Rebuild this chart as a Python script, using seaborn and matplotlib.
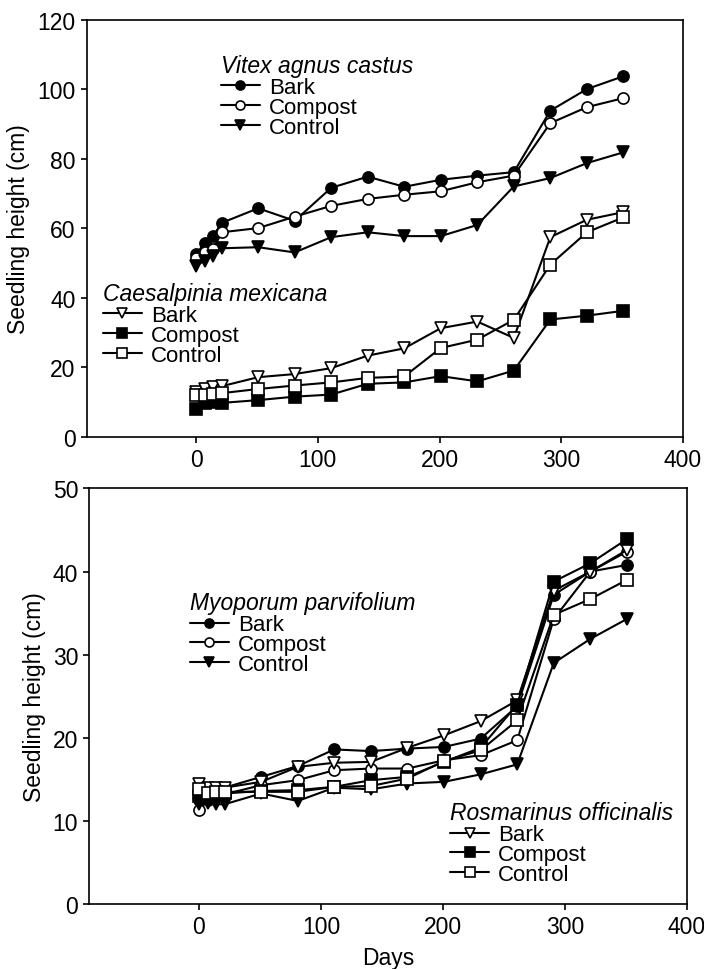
import matplotlib
matplotlib.use('Agg')
import matplotlib.pyplot as plt
from matplotlib.lines import Line2D
import seaborn as sns

# Days after planting (shared x values)
days = [0, 7, 14, 21, 51, 81, 111, 141, 171, 201, 231, 261, 291, 321, 351]

# Top panel - Vitex agnus castus
vitex_bark = [52.7, 55.7, 57.8, 61.6, 65.8, 62.2, 71.7, 74.9, 72.0, 74.0, 75.2, 76.2, 93.9, 100.1, 103.8]
vitex_compost = [51.5, 53.2, 54.2, 58.9, 60.1, 63.4, 66.5, 68.5, 69.7, 70.7, 73.3, 75.2, 90.3, 94.9, 97.5]
vitex_control = [49.3, 50.7, 52.2, 54.3, 54.6, 53.1, 57.5, 58.9, 57.8, 57.8, 61.0, 72.1, 74.5, 78.8, 81.9]

# Top panel - Caesalpinia mexicana
cae_bark = [13.0, 13.8, 14.3, 14.6, 17.2, 18.1, 19.8, 23.4, 25.5, 31.3, 33.2, 28.5, 57.5, 62.5, 64.7]
cae_compost = [8.1, 9.8, 10.0, 9.8, 10.6, 11.6, 12.2, 15.3, 15.7, 17.5, 16.0, 19.1, 33.8, 34.9, 36.3]
cae_control = [12.1, 12.2, 12.4, 12.6, 13.8, 14.8, 15.7, 17.0, 17.4, 25.6, 28.0, 33.7, 49.6, 58.9, 63.2]

# Bottom panel - Myoporum parvifolium
myo_bark = [12.5, 13.8, 14.0, 14.0, 15.3, 16.6, 18.6, 18.4, 18.7, 18.9, 19.9, 23.8, 37.2, 40.0, 40.8]
myo_compost = [11.3, 12.5, 13.0, 13.2, 14.3, 14.9, 16.1, 16.3, 16.3, 17.3, 17.9, 19.7, 34.3, 40.0, 42.4]
myo_control = [12.0, 12.2, 12.0, 12.0, 13.3, 12.4, 14.0, 13.8, 14.5, 14.7, 15.6, 16.8, 29.0, 31.9, 34.3]

# Bottom panel - Rosmarinus officinalis
ros_bark = [14.4, 14.0, 14.0, 14.0, 14.7, 16.5, 17.0, 17.1, 18.8, 20.3, 22.0, 24.5, 37.7, 40.0, 42.6]
ros_compost = [13.0, 13.0, 13.2, 13.3, 13.6, 13.7, 14.1, 14.9, 15.3, 17.1, 18.8, 24.0, 38.8, 41.0, 43.9]
ros_control = [13.8, 13.3, 13.5, 13.5, 13.5, 13.5, 14.1, 14.2, 15.1, 17.2, 18.5, 22.1, 34.8, 36.7, 39.0]

treatments = ['Bark', 'Compost', 'Control']

sns.set_style('ticks')
plt.rcParams['font.family'] = ['Liberation Sans', 'DejaVu Sans']
plt.rcParams['text.color'] = 'black'
plt.rcParams['axes.labelcolor'] = 'black'
FS = 16.5
LEG_FS = 16

# marker styles: (marker, facecolor)
style_a = [('o', 'black'), ('o', 'white'), ('v', 'black')]
style_b = [('v', 'white'), ('s', 'black'), ('s', 'white')]


def draw_series(ax, series, styles):
    for vals, (mk, fc) in zip(series, styles):
        sns.lineplot(x=days, y=vals, ax=ax, color='black', lw=1.5,
                     marker=mk, markersize=8, markerfacecolor=fc,
                     markeredgecolor='black', markeredgewidth=1.2,
                     legend=False)


def add_legend(ax, title, styles, anchor):
    handles = [Line2D([], [], color='black', lw=1.5, marker=mk, markersize=6.5,
                      markerfacecolor=fc, markeredgecolor='black', markeredgewidth=1.2)
               for mk, fc in styles]
    leg = ax.legend(handles, treatments, title=title, loc='upper left',
                    bbox_to_anchor=anchor, frameon=False, fontsize=LEG_FS,
                    title_fontproperties={'style': 'italic', 'size': FS},
                    handlelength=1.75, handletextpad=0.4, labelspacing=-0.05,
                    borderpad=0, borderaxespad=0)
    leg._legend_box.align = 'left'
    leg._legend_box.sep = 0
    return leg


def style_axes(ax, ymax, ystep):
    ax.set_xlim(-90, 400)
    ax.set_ylim(0, ymax)
    ax.set_xticks(range(0, 401, 100))
    ax.set_yticks(range(0, ymax + 1, ystep))
    for sp in ax.spines.values():
        sp.set_linewidth(1.2)
        sp.set_color('black')
    ax.tick_params(direction='out', length=4.5, width=1.2, labelsize=FS,
                   colors='black', labelcolor='black')
    ax.set_ylabel('Seedling height (cm)', fontsize=FS, labelpad=5)


fig = plt.figure(figsize=(7.04, 9.70), dpi=100)
ax1 = fig.add_axes([0.1229, 0.5485, 0.8473, 0.4299])
ax2 = fig.add_axes([0.1268, 0.0670, 0.8486, 0.4284])

# Top panel
draw_series(ax1, [vitex_bark, vitex_compost, vitex_control], style_a)
draw_series(ax1, [cae_bark, cae_compost, cae_control], style_b)
style_axes(ax1, 120, 20)
leg1 = add_legend(ax1, 'Vitex agnus castus', style_a, (0.2255, 0.918))
ax1.add_artist(leg1)
add_legend(ax1, 'Caesalpinia mexicana', style_b, (0.0277, 0.371))

# Bottom panel
draw_series(ax2, [myo_bark, myo_compost, myo_control], style_a)
draw_series(ax2, [ros_bark, ros_compost, ros_control], style_b)
style_axes(ax2, 50, 10)
ax2.set_xlabel('Days', fontsize=FS, labelpad=6)
leg3 = add_legend(ax2, 'Myoporum parvifolium', style_a, (0.1686, 0.7525))
ax2.add_artist(leg3)
add_legend(ax2, 'Rosmarinus officinalis', style_b, (0.604, 0.247))

fig.savefig('out.png', dpi=100)
